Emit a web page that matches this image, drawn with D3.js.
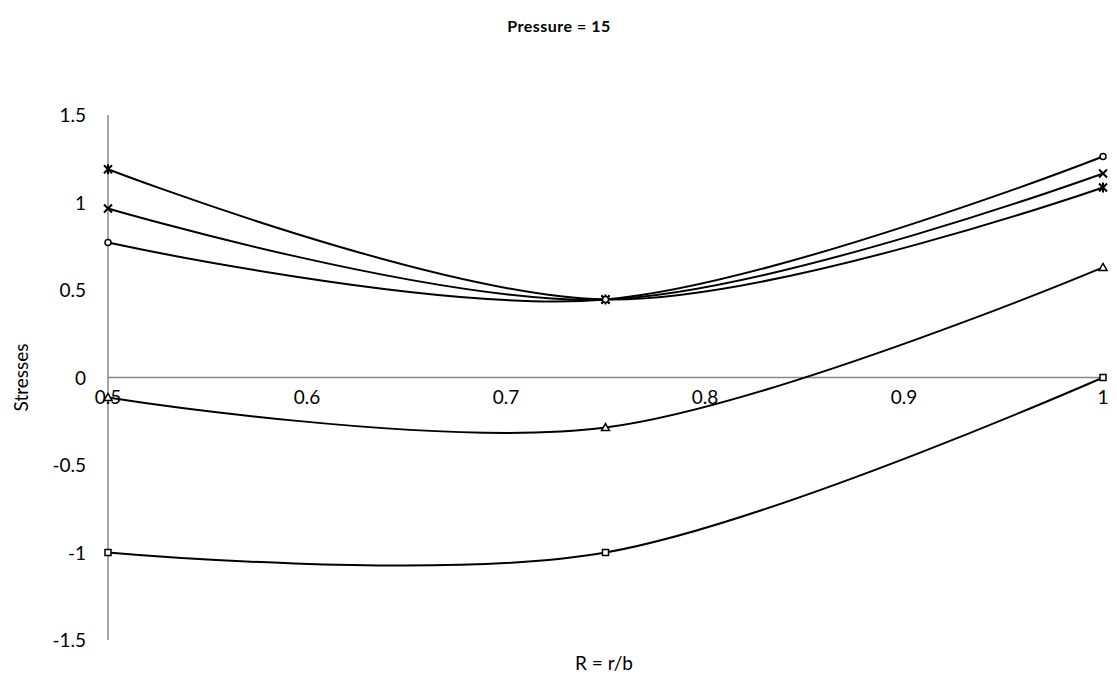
<!DOCTYPE html>
<html lang="en">
<head>
<meta charset="UTF-8">
<title>Pressure = 15</title>
<script src="https://cdn.jsdelivr.net/npm/d3@7"></script>
<style>
  body { margin: 0; background: #fff; }
  text { font-family: Lato, "Liberation Sans", sans-serif; fill: #000; }
</style>
</head>
<body>
<svg width="1117" height="682"></svg>
<script>
    // data
    var rValues = [0.5, 0.75, 1];
    var starSeries = [1.19, 0.446, 1.086];
    var crossSeries = [0.966, 0.446, 1.166];
    var circleSeries = [0.771, 0.446, 1.263];
    var triangleSeries = [-0.114, -0.286, 0.629];
    var squareSeries = [-1.0, -1.0, 0.0];
    var xTicks = [0.5, 0.6, 0.7, 0.8, 0.9, 1];
    var yTicks = [-1.5, -1, -0.5, 0, 0.5, 1, 1.5];

    var svg = d3.select("svg");
    var x = d3.scaleLinear().domain([0.5, 1]).range([108, 1103]);
    var y = d3.scaleLinear().domain([-1.5, 1.5]).range([640, 115]);

    // title
    svg.append("text").attr("x", 559).attr("y", 32)
        .attr("text-anchor", "middle").attr("font-size", 16).attr("font-weight", "bold")
        .attr("letter-spacing", 0.5)
        .text("Pressure = 15");

    // axes lines
    svg.append("line").attr("x1", x(0.5)).attr("x2", x(0.5))
        .attr("y1", y(1.5)).attr("y2", y(-1.5)).attr("stroke", "#898989").attr("stroke-width", 1.5);
    svg.append("line").attr("x1", x(0.5)).attr("x2", x(1))
        .attr("y1", y(0)).attr("y2", y(0)).attr("stroke", "#898989").attr("stroke-width", 1.5);

    // y tick labels
    svg.selectAll(".ytick").data(yTicks).enter().append("text")
        .attr("x", 86).attr("y", function(d){ return y(d) + 7; })
        .attr("text-anchor", "end").attr("font-size", 19)
        .text(function(d){ return d; });

    // x tick labels
    svg.selectAll(".xtick").data(xTicks).enter().append("text")
        .attr("x", function(d){ return x(d); }).attr("y", y(0) + 26)
        .attr("text-anchor", "middle").attr("font-size", 19)
        .text(function(d){ return d; });

    // axis titles
    svg.append("text").attr("transform", "translate(28," + y(0) + ") rotate(-90)")
        .attr("text-anchor", "middle").attr("font-size", 19).text("Stresses");
    svg.append("text").attr("x", 604).attr("y", 670)
        .attr("text-anchor", "middle").attr("font-size", 19).text("R = r/b");

    // curves
    var line = d3.line()
        .x(function(d){ return x(d[0]); })
        .y(function(d){ return y(d[1]); })
        .curve(d3.curveCardinal.tension(0));

    var series = [
        {values: starSeries, marker: "star"},
        {values: crossSeries, marker: "cross"},
        {values: circleSeries, marker: "circle"},
        {values: triangleSeries, marker: "triangle"},
        {values: squareSeries, marker: "square"}
    ];

    series.forEach(function(s){
        var pts = rValues.map(function(r, i){ return [r, s.values[i]]; });
        svg.append("path").attr("d", line(pts))
            .attr("fill", "none").attr("stroke", "#000").attr("stroke-width", 2);

        var g = svg.append("g");
        pts.forEach(function(p){
            var cx = x(p[0]), cy = y(p[1]);
            var m = g.append("g").attr("transform", "translate(" + cx + "," + cy + ")");
            if (s.marker === "star") {
                m.append("path").attr("d", "M-4,-4L4,4M-4,4L4,-4M0,-5L0,5")
                    .attr("stroke", "#000").attr("stroke-width", 2);
            } else if (s.marker === "cross") {
                m.append("path").attr("d", "M-4,-4L4,4M-4,4L4,-4")
                    .attr("stroke", "#000").attr("stroke-width", 2);
            } else if (s.marker === "circle") {
                m.append("circle").attr("r", 3).attr("fill", "#fff")
                    .attr("stroke", "#000").attr("stroke-width", 1.5);
            } else if (s.marker === "triangle") {
                m.append("path").attr("d", "M0,-4L4,3L-4,3Z").attr("fill", "#fff")
                    .attr("stroke", "#000").attr("stroke-width", 1.5);
            } else {
                m.append("rect").attr("x", -3).attr("y", -3).attr("width", 6).attr("height", 6)
                    .attr("fill", "#fff").attr("stroke", "#000").attr("stroke-width", 1.5);
            }
        });
    });
</script>
</body>
</html>
